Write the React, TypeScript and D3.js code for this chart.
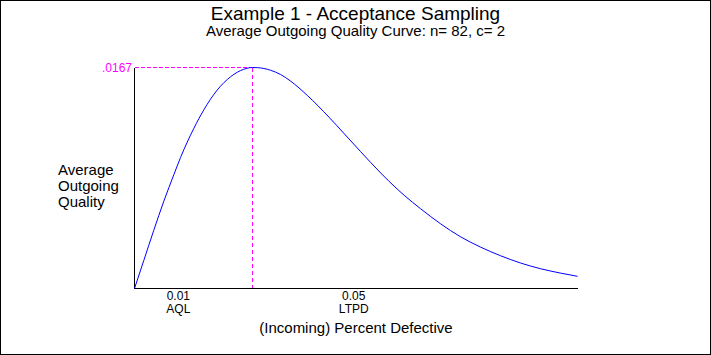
import React from "react";
import * as d3 from "d3";

const pValues = [0, 0.00212, 0.0044, 0.00669, 0.00897, 0.0105, 0.01353, 0.01581, 0.01887, 0.02191, 0.02494, 0.0269, 0.028, 0.03104, 0.03332, 0.0356, 0.03941, 0.04434, 0.04776, 0.05157, 0.05614, 0.05995, 0.06337, 0.06527, 0.06983, 0.07439, 0.07896, 0.08352, 0.08809, 0.09265, 0.09721, 0.10102];
const aoqValues = [0, 0.00212, 0.0044, 0.0066, 0.0086, 0.0099, 0.0121, 0.0135, 0.015, 0.016, 0.01657, 0.0167, 0.01669, 0.01649, 0.01617, 0.01567, 0.01459, 0.01295, 0.01172, 0.01034, 0.00873, 0.0075, 0.00652, 0.00602, 0.00488, 0.0039, 0.00312, 0.00247, 0.00192, 0.00149, 0.00116, 0.00092];
const tickValues = [0.01, 0.05];
const tickLabels = ["0.01", "0.05"];
const tickSubLabels = ["AQL", "LTPD"];
const aoql = 0.0167;
const aoqlLabel = ".0167";
const aoqlP = 0.0269;
const yLabelLines = ["Average", "Outgoing", "Quality"];

export default function App() {
  const W = 711, H = 355;
  const x = d3.scaleLinear().domain([0, 0.10102]).range([134.5, 577.5]);
  const y = d3.scaleLinear().domain([0, aoql]).range([288.5, 67.5]);
  const line = d3.line<number>().x((_, i) => x(pValues[i])).y((d) => y(d)).curve(d3.curveMonotoneX);
  const font = "'Liberation Sans', Arial, sans-serif";
  return (
    <svg width={W} height={H} style={{ position: "absolute", left: 0, top: 0, background: "#fff" }} fontFamily={font}>
      <rect x={0.5} y={0.5} width={710} height={354} fill="#fff" stroke="#000" strokeWidth={1} shapeRendering="crispEdges" />
      <text x={355.5} y={20} textAnchor="middle" fontSize={19}>Example 1 - Acceptance Sampling</text>
      <text x={355.5} y={35.5} textAnchor="middle" fontSize={15}>Average Outgoing Quality Curve: n= 82, c= 2</text>
      {/* dashed guides */}
      <line x1={x(0)} x2={x(aoqlP)} y1={y(aoql)} y2={y(aoql)} stroke="#ff00ff" strokeDasharray="4,2" shapeRendering="crispEdges" />
      <line x1={x(aoqlP)} x2={x(aoqlP)} y1={y(aoql)} y2={y(0)} stroke="#ff00ff" strokeDasharray="4,3" shapeRendering="crispEdges" />
      {/* axes */}
      <line x1={x(0)} x2={x(0)} y1={y(aoql)} y2={y(0)} stroke="#000" shapeRendering="crispEdges" />
      <line x1={x(0)} x2={x.range()[1]} y1={y(0)} y2={y(0)} stroke="#000" shapeRendering="crispEdges" />
      <path d={line(aoqValues) || ""} fill="none" stroke="#0000ff" strokeWidth={1} />
      <text x={132} y={72} textAnchor="end" fontSize={12} fill="#ff00ff">{aoqlLabel}</text>
      {tickValues.map((t, i) => (
        <g key={i}>
          <text x={x(t)} y={300} textAnchor="middle" fontSize={12}>{tickLabels[i]}</text>
          <text x={x(t)} y={313} textAnchor="middle" fontSize={12}>{tickSubLabels[i]}</text>
        </g>
      ))}
      <text x={356} y={333} textAnchor="middle" fontSize={15}>(Incoming) Percent Defective</text>
      {yLabelLines.map((l, i) => (
        <text key={i} x={58} y={175 + i * 16} fontSize={15}>{l}</text>
      ))}
    </svg>
  );
}
